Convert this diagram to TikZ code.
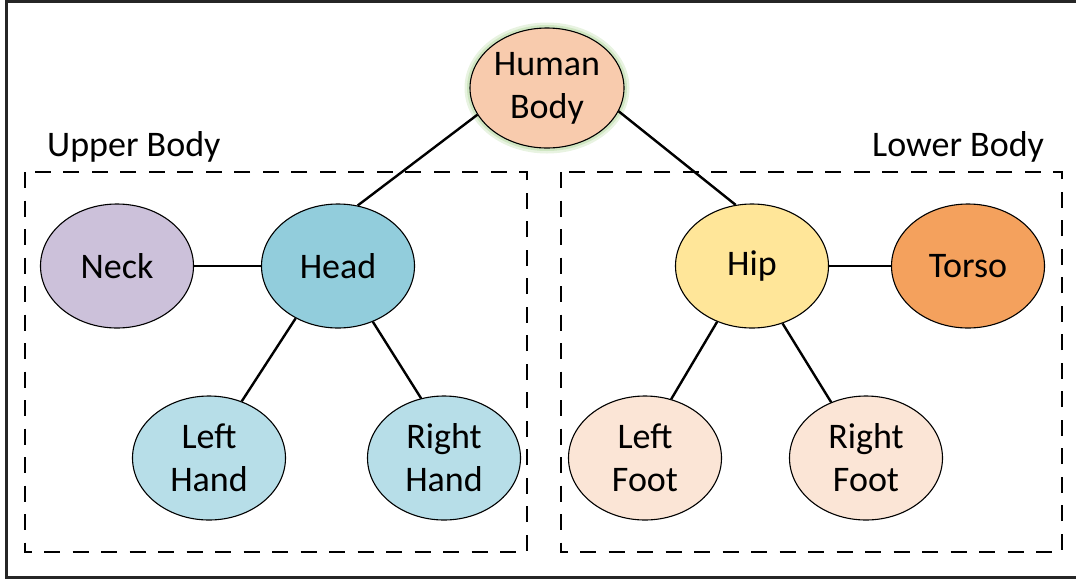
\documentclass[tikz,border=0pt]{standalone}
\usepackage{fontspec}
\setmainfont{Carlito}
\usetikzlibrary{shapes.geometric}
\definecolor{hbfill}{HTML}{F8CBAD}
\definecolor{glowc}{HTML}{C5E0B4}
\definecolor{neckfill}{HTML}{CCC1DA}
\definecolor{headfill}{HTML}{92CDDC}
\definecolor{handfill}{HTML}{B7DEE8}
\definecolor{hipfill}{HTML}{FFE699}
\definecolor{torsofill}{HTML}{F4A15D}
\definecolor{footfill}{HTML}{FBE5D6}
\tikzset{
  bnode/.style={ellipse, draw=black, line width=1.1pt, inner sep=0pt,
    minimum width=153pt, minimum height=124pt, align=center,
    font=\fontsize{36}{43}\selectfont},
  link/.style={line width=2.4pt, draw=black},
  group/.style={draw=black, line width=2.8pt, dash pattern=on 16pt off 12.5pt},
  frameline/.style={draw=black!85, line width=3pt},
  grouplabel/.style={anchor=base west, inner sep=0pt, font=\fontsize{36}{43}\selectfont}
}
\begin{document}
\begin{tikzpicture}[x=1pt,y=-1pt]
\useasboundingbox (0,0) rectangle (1076,579);
% outer frame (right side lies beyond the picture)
\draw[frameline] (1080,1.5) -- (6,1.5) -- (6,577) -- (1080,577);
% groups
\draw[group] (25,172) rectangle (527,552);
\draw[group] (561,172) rectangle (1062,552);
\node[grouplabel] (ul) at (47,156) {Upper Body};
\node[grouplabel] (ll) at (872,156) {Lower Body};
% nodes
\node[bnode, fill=hbfill, minimum width=154pt, minimum height=120pt,
  preaction={draw=glowc, line width=11pt, opacity=0.4},
  preaction={draw=glowc, line width=6pt, opacity=0.7}] (hb) at (547,88) {Human\\Body};
\node[bnode, fill=neckfill] (neck) at (117,266) {Neck};
\node[bnode, fill=headfill] (head) at (338,266) {Head};
\node[bnode, fill=handfill] (lh) at (209,458) {Left\\Hand};
\node[bnode, fill=handfill] (rh) at (444,458) {Right\\Hand};
\node[bnode, fill=hipfill] (hip) at (752,266) {Hip};
\node[bnode, fill=torsofill] (torso) at (968,266) {Torso};
\node[bnode, fill=footfill] (lf) at (645,458) {Left\\Foot};
\node[bnode, fill=footfill] (rf) at (866,458) {Right\\Foot};
% links
\draw[link] (hb.201.4) -- (head.72.4);
\draw[link] (hb.342) -- (hip.105);
\draw[link] (neck.east) -- (head.west);
\draw[link] (head.231.7) -- (lh.60.4);
\draw[link] (head.302.9) -- (rh.111.8);
\draw[link] (hip.east) -- (torso.west);
\draw[link] (hip.238.7) -- (lf.66.2);
\draw[link] (hip.298.9) -- (rf.122.7);
\end{tikzpicture}
\end{document}
